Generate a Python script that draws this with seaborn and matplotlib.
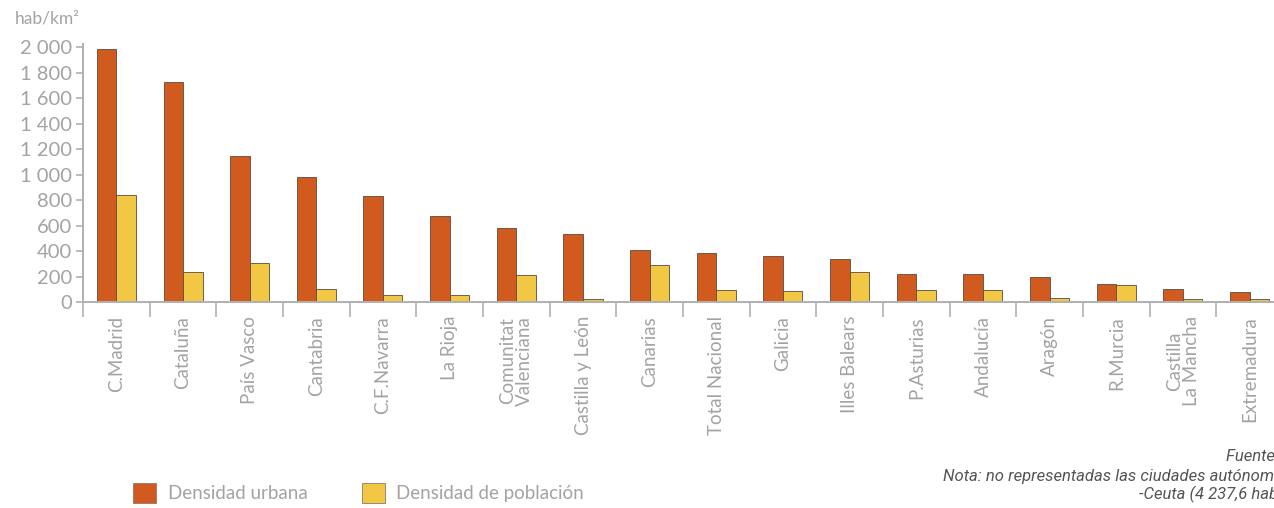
import pandas as pd
import matplotlib.pyplot as plt
import seaborn as sns
from matplotlib.patches import Patch
from matplotlib.ticker import FuncFormatter, FixedLocator

# data (hab/km2)
regiones = ["C.Madrid", "Cataluña", "País Vasco", "Cantabria", "C.F.Navarra",
            "La Rioja", "Comunitat\nValenciana", "Castilla y León", "Canarias",
            "Total Nacional", "Galicia", "Illes Balears", "P.Asturias",
            "Andalucía", "Aragón", "R.Murcia", "Castilla\nLa Mancha", "Extremadura"]
densidad_urbana = [1985, 1725, 1143, 980, 829, 672, 580, 536, 405,
                   387, 358, 337, 222, 217, 196, 144, 105, 78]
densidad_poblacion = [842, 235, 309, 105, 58, 55, 215, 27, 293,
                      92, 84, 235, 97, 97, 31, 131, 27, 21]
series = ["Densidad urbana", "Densidad de población"]
colores = {"Densidad urbana": "#D15B1F", "Densidad de población": "#F2C744"}

df = pd.DataFrame({
    "region": regiones * 2,
    "serie": [series[0]] * len(regiones) + [series[1]] * len(regiones),
    "valor": densidad_urbana + densidad_poblacion,
})

sns.set_style("white")
plt.rcParams["font.family"] = ["Lato", "DejaVu Sans"]
gris = "#a3a3a3"

fig = plt.figure(figsize=(12.74, 5.08), dpi=100)
ax = fig.add_axes([83 / 1274, 206 / 508, 1200 / 1274, 258 / 508])

sns.barplot(data=df, x="region", y="valor", hue="serie", order=regiones,
            hue_order=series, palette=colores, width=0.585, gap=0,
            edgecolor="#5a4a40", linewidth=0.6, saturation=1, ax=ax)

ax.set_xlim(-0.5, len(regiones) - 0.5)
ax.set_ylim(0, 2025)
ax.set_yticks(range(0, 2001, 200))
ax.yaxis.set_major_formatter(FuncFormatter(lambda v, p: f"{v:,.0f}".replace(",", " ")))
ax.set_xlabel("")
ax.set_ylabel("")

for s in ["top", "right"]:
    ax.spines[s].set_visible(False)
for s in ["left", "bottom"]:
    ax.spines[s].set_color("#b0b0b0")
    ax.spines[s].set_linewidth(1.4)

ax.tick_params(axis="y", left=True, length=5, width=1.2, color="#b0b0b0",
               labelsize=14.5, labelcolor=gris, pad=3)
ax.tick_params(axis="x", which="major", length=0, labelsize=13.5, labelcolor=gris,
               rotation=90, pad=10)
ax.xaxis.set_minor_locator(FixedLocator([i - 0.5 for i in range(len(regiones) + 1)]))
ax.tick_params(axis="x", which="minor", bottom=True, length=11, width=1.2, color="#b0b0b0")
for lbl in ax.get_xticklabels():
    lbl.set_va("top")
    lbl.set_ha("center")
    lbl.set_multialignment("center")
    lbl.set_linespacing(1.0)

if ax.get_legend() is not None:
    ax.get_legend().remove()

fig.text(15 / 1274, 1 - 18 / 508, "hab/km²", fontsize=12.5, color=gris,
         va="center", ha="left")

handles = [Patch(facecolor=colores[s], edgecolor="#8a7a70", linewidth=0.6) for s in series]
leg = fig.legend(handles, series, loc="center left", bbox_to_anchor=(116 / 1274, 1 - 493 / 508),
                 ncol=2, frameon=False, fontsize=13.5, handlelength=1.25, handleheight=1.25,
                 columnspacing=2.9, handletextpad=0.6)
for t in leg.get_texts():
    t.set_color(gris)

# notes run off the right edge, as in the source image
nota_kw = dict(fontsize=12, color="#555555", style="italic", family="Roboto", va="center", ha="left")
fig.text(1226 / 1274, 1 - 456 / 508, "Fuente: elaboración propia", **nota_kw)
fig.text(943 / 1274, 1 - 476 / 508, "Nota: no representadas las ciudades autónomas de:", **nota_kw)
fig.text(1139 / 1274, 1 - 494 / 508, "-Ceuta (4 237,6 hab/km²)", **nota_kw)

fig.savefig("out.png", dpi=100)
